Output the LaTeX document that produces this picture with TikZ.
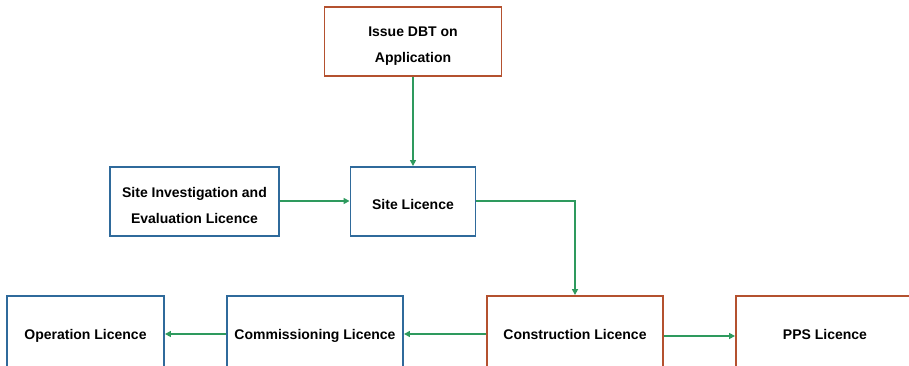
\documentclass[tikz,border=0pt]{standalone}
\usepackage{fontspec}
\setmainfont{Liberation Sans}
\usetikzlibrary{arrows.meta}
\definecolor{rustline}{HTML}{B4512F}
\definecolor{blueline}{HTML}{2F6A9B}
\definecolor{flowgreen}{HTML}{2E9A5E}
% box caption: centred lines on a zero-size box, lowered by the given amount
\newcommand\boxtext[2][3.5pt]{\raisebox{-#1}[0pt][0pt]{\begin{tabular}{@{}c@{}}#2\end{tabular}}}
\begin{document}
\begin{tikzpicture}[x=1pt,y=-1pt,
  box/.style={draw, line width=1.9pt, fill=white, inner sep=0pt,
    font=\fontsize{14}{26}\selectfont\bfseries},
  rustbox/.style={box, draw=rustline},
  bluebox/.style={box, draw=blueline},
  flow/.style={draw=flowgreen, line width=1.7pt, -{Triangle[length=6pt,width=6pt]}}]
\useasboundingbox (0,0) rectangle (909,366);
\clip (0,0) rectangle (909,366);
% top row
\node[rustbox, minimum width=177, minimum height=69] (dbt) at (413,41.5) {\boxtext[6pt]{Issue DBT on\\Application}};
% middle row
\node[bluebox, minimum width=169, minimum height=69] (sie) at (194.5,201.5) {\boxtext[7pt]{Site Investigation and\\Evaluation Licence}};
\node[bluebox, minimum width=125, minimum height=69] (site) at (413,201.5) {\boxtext[6.5pt]{Site Licence}};
% bottom row (runs past the lower edge)
\node[bluebox, minimum width=157, minimum height=76] (op) at (85.5,334) {\boxtext{Operation Licence}};
\node[bluebox, minimum width=176, minimum height=76] (com) at (315,334) {\boxtext{Commissioning Licence}};
\node[rustbox, minimum width=176, minimum height=76] (con) at (575,334) {\boxtext{Construction Licence}};
\node[rustbox, minimum width=178, minimum height=76] (pps) at (825,334) {\boxtext{PPS Licence}};
% connectors
\draw[flow] (dbt) -- (site);
\draw[flow] ([yshift=0.5]sie.east) -- ([yshift=0.5]site.west);
\draw[flow] ([yshift=0.5]site.east) -| (con.north);
\draw[flow] (con.west) -- (com.east);
\draw[flow] (com.west) -- (op.east);
\draw[flow] ([yshift=-2]con.east) -- ([yshift=-2]pps.west);
\end{tikzpicture}
\end{document}
